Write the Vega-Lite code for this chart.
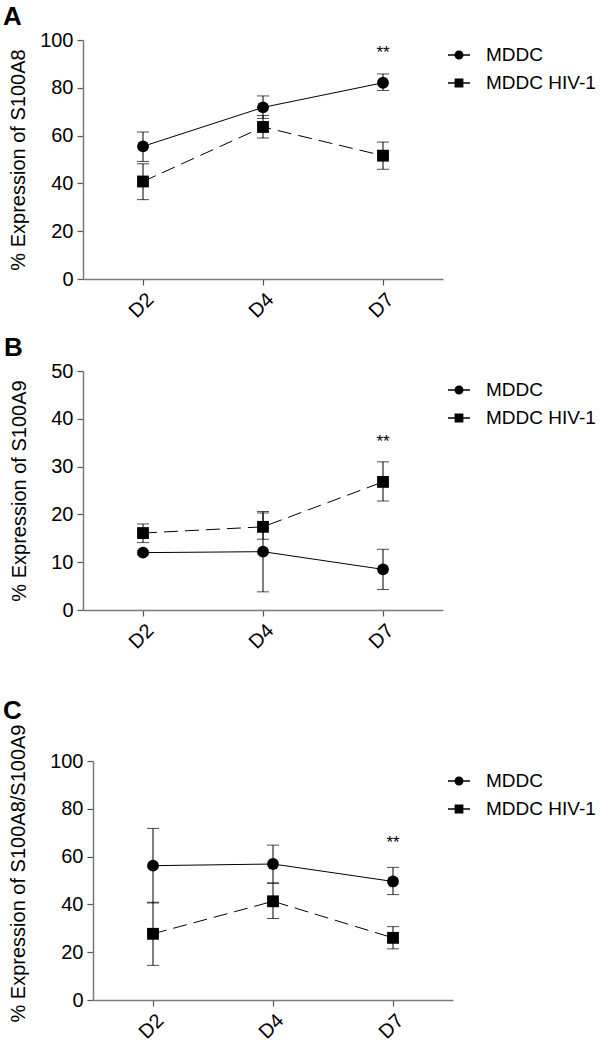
{
  "$schema": "https://vega.github.io/schema/vega-lite/v6.json",
  "padding": {"left": 2, "top": 4, "right": 0, "bottom": 0},
  "background": "white",
  "config": {
    "font": "Liberation Sans",
    "view": {"stroke": null},
    "axis": {
      "labelFont": "Liberation Sans", "labelFontSize": 20, "labelColor": "black",
      "titleFont": "Liberation Sans", "titleFontSize": 20, "titleFontWeight": "normal", "titleColor": "black",
      "domainColor": "#7a7a7a", "domainWidth": 1.5, "tickColor": "#555", "tickSize": 6, "tickWidth": 1.2,
      "grid": false, "labelPadding": 4
    },
    "legend": {
      "labelFont": "Liberation Sans", "labelFontSize": 19, "labelColor": "black",
      "symbolSize": 484, "symbolStrokeWidth": 0, "symbolFillColor": "black", "symbolOpacity": 1,
      "labelOffset": 16, "rowPadding": 7, "padding": 5, "offset": 0, "orient": "right"
    },
    "title": {"font": "Liberation Sans", "fontSize": 26, "fontWeight": "bold", "color": "black", "anchor": "start", "frame": "bounds", "dx": -5}
  },
  "datasets": {
    "stats": [
      {"panel": "A", "group": "MDDC", "day": "D2", "mean": 55.5, "lo": 49.2, "hi": 61.5},
      {"panel": "A", "group": "MDDC", "day": "D4", "mean": 71.8, "lo": 67.2, "hi": 76.6},
      {"panel": "A", "group": "MDDC", "day": "D7", "mean": 82.1, "lo": 78.9, "hi": 85.8},
      {"panel": "A", "group": "MDDC HIV-1", "day": "D2", "mean": 40.8, "lo": 33.2, "hi": 48.2},
      {"panel": "A", "group": "MDDC HIV-1", "day": "D4", "mean": 63.6, "lo": 59.0, "hi": 68.4},
      {"panel": "A", "group": "MDDC HIV-1", "day": "D7", "mean": 51.6, "lo": 45.9, "hi": 57.3},
      {"panel": "B", "group": "MDDC", "day": "D2", "mean": 12.0, "lo": 11.6, "hi": 12.4},
      {"panel": "B", "group": "MDDC", "day": "D4", "mean": 12.2, "lo": 3.8, "hi": 20.6},
      {"panel": "B", "group": "MDDC", "day": "D7", "mean": 8.5, "lo": 4.3, "hi": 12.7},
      {"panel": "B", "group": "MDDC HIV-1", "day": "D2", "mean": 16.1, "lo": 14.1, "hi": 18.0},
      {"panel": "B", "group": "MDDC HIV-1", "day": "D4", "mean": 17.4, "lo": 14.8, "hi": 20.3},
      {"panel": "B", "group": "MDDC HIV-1", "day": "D7", "mean": 26.8, "lo": 22.8, "hi": 31.0},
      {"panel": "C", "group": "MDDC", "day": "D2", "mean": 56.2, "lo": 40.6, "hi": 71.8},
      {"panel": "C", "group": "MDDC", "day": "D4", "mean": 56.9, "lo": 49.0, "hi": 64.8},
      {"panel": "C", "group": "MDDC", "day": "D7", "mean": 49.6, "lo": 44.1, "hi": 55.5},
      {"panel": "C", "group": "MDDC HIV-1", "day": "D2", "mean": 27.7, "lo": 14.5, "hi": 40.9},
      {"panel": "C", "group": "MDDC HIV-1", "day": "D4", "mean": 41.3, "lo": 34.1, "hi": 48.8},
      {"panel": "C", "group": "MDDC HIV-1", "day": "D7", "mean": 26.0, "lo": 21.4, "hi": 30.7}
    ],
    "stars": [
      {"panel": "A", "day": "D7", "y": 94.5, "label": "**"},
      {"panel": "B", "day": "D7", "y": 35.2, "label": "**"},
      {"panel": "C", "day": "D7", "y": 65.6, "label": "**"}
    ]
  },
  "columns": 1,
  "spacing": 13,
  "concat": [
    {
      "width": 360, "height": 239,
      "title": {"text": "A", "offset": 0},
      "encoding": {
        "x": {"field": "day", "type": "ordinal", "scale": {"type": "point", "padding": 0.5, "domain": ["D2", "D4", "D7"]}, "axis": {"title": null, "labelAngle": -45}}
      },
      "layer": [
        {
          "data": {"name": "stats"}, "transform": [{"filter": "datum.panel === 'A' && datum.group === 'MDDC'"}],
          "mark": {"type": "line", "color": "black", "strokeWidth": 1},
          "encoding": {
            "y": {"field": "mean", "type": "quantitative", "scale": {"domain": [0, 100], "nice": false},
                  "axis": {"title": "% Expression of S100A8", "values": [0, 20, 40, 60, 80, 100], "titleX": -55, "titleAngle": 270, "titleBaseline": "bottom", "titleAlign": "center"}}
          }
        },
        {
          "data": {"name": "stats"}, "transform": [{"filter": "datum.panel === 'A' && datum.group === 'MDDC HIV-1'"}],
          "mark": {"type": "line", "color": "black", "strokeWidth": 1, "strokeDash": [14, 7]},
          "encoding": {"y": {"field": "mean", "type": "quantitative"}}
        },
        {
          "data": {"name": "stats"}, "transform": [{"filter": "datum.panel === 'A'"}],
          "mark": {"type": "rule", "color": "black", "strokeWidth": 1},
          "encoding": {"y": {"field": "lo", "type": "quantitative"}, "y2": {"field": "hi"}}
        },
        {
          "data": {"name": "stats"}, "transform": [{"filter": "datum.panel === 'A'"}],
          "mark": {"type": "tick", "orient": "horizontal", "size": 12, "thickness": 1, "color": "black"},
          "encoding": {"y": {"field": "lo", "type": "quantitative"}}
        },
        {
          "data": {"name": "stats"}, "transform": [{"filter": "datum.panel === 'A'"}],
          "mark": {"type": "tick", "orient": "horizontal", "size": 12, "thickness": 1, "color": "black"},
          "encoding": {"y": {"field": "hi", "type": "quantitative"}}
        },
        {
          "data": {"name": "stats"}, "transform": [{"filter": "datum.panel === 'A' && datum.group === 'MDDC'"}],
          "mark": {"type": "point", "filled": true, "shape": "circle", "size": 140, "color": "black", "opacity": 1},
          "encoding": {"y": {"field": "mean", "type": "quantitative"}}
        },
        {
          "data": {"name": "stats"}, "transform": [{"filter": "datum.panel === 'A' && datum.group === 'MDDC HIV-1'"}],
          "mark": {"type": "point", "filled": true, "shape": "square", "size": 140, "color": "black", "opacity": 1},
          "encoding": {"y": {"field": "mean", "type": "quantitative"}}
        },
        {
          "data": {"name": "stats"}, "transform": [{"filter": "datum.panel === 'A'"}],
          "mark": {"type": "point", "filled": true, "size": 484, "color": "black", "opacity": 0},
          "encoding": {
            "y": {"field": "mean", "type": "quantitative"},
            "shape": {"field": "group", "type": "nominal",
              "scale": {"domain": ["MDDC", "MDDC HIV-1"], "range": ["M-1,-0.065L1,-0.065L1,0.065L-1,0.065Z M-0.41,0A0.41,0.41,0,1,1,0.41,0A0.41,0.41,0,1,1,-0.41,0Z", "M-1,-0.065L1,-0.065L1,0.065L-1,0.065Z M-0.4,-0.4L0.4,-0.4L0.4,0.4L-0.4,0.4Z"]},
              "legend": {"title": null, "padding": 4, "offset": 1, "symbolOpacity": 1, "symbolFillColor": "black"}}
          }
        },
        {
          "data": {"name": "stars"}, "transform": [{"filter": "datum.panel === 'A'"}],
          "mark": {"type": "text", "fontSize": 17, "color": "black", "baseline": "middle"},
          "encoding": {"y": {"field": "y", "type": "quantitative"}, "text": {"field": "label"}}
        }
      ]
    },
    {
      "width": 360, "height": 239,
      "title": {"text": "B", "offset": 0},
      "encoding": {
        "x": {"field": "day", "type": "ordinal", "scale": {"type": "point", "padding": 0.5, "domain": ["D2", "D4", "D7"]}, "axis": {"title": null, "labelAngle": -45, "minExtent": 75}}
      },
      "layer": [
        {
          "data": {"name": "stats"}, "transform": [{"filter": "datum.panel === 'B' && datum.group === 'MDDC'"}],
          "mark": {"type": "line", "color": "black", "strokeWidth": 1},
          "encoding": {
            "y": {"field": "mean", "type": "quantitative", "scale": {"domain": [0, 50], "nice": false},
                  "axis": {"title": "% Expression of S100A9", "values": [0, 10, 20, 30, 40, 50], "titleX": -54, "titleAngle": 270, "titleBaseline": "bottom", "titleAlign": "center"}}
          }
        },
        {
          "data": {"name": "stats"}, "transform": [{"filter": "datum.panel === 'B' && datum.group === 'MDDC HIV-1'"}],
          "mark": {"type": "line", "color": "black", "strokeWidth": 1, "strokeDash": [14, 7]},
          "encoding": {"y": {"field": "mean", "type": "quantitative"}}
        },
        {
          "data": {"name": "stats"}, "transform": [{"filter": "datum.panel === 'B'"}],
          "mark": {"type": "rule", "color": "black", "strokeWidth": 1},
          "encoding": {"y": {"field": "lo", "type": "quantitative"}, "y2": {"field": "hi"}}
        },
        {
          "data": {"name": "stats"}, "transform": [{"filter": "datum.panel === 'B'"}],
          "mark": {"type": "tick", "orient": "horizontal", "size": 12, "thickness": 1, "color": "black"},
          "encoding": {"y": {"field": "lo", "type": "quantitative"}}
        },
        {
          "data": {"name": "stats"}, "transform": [{"filter": "datum.panel === 'B'"}],
          "mark": {"type": "tick", "orient": "horizontal", "size": 12, "thickness": 1, "color": "black"},
          "encoding": {"y": {"field": "hi", "type": "quantitative"}}
        },
        {
          "data": {"name": "stats"}, "transform": [{"filter": "datum.panel === 'B' && datum.group === 'MDDC'"}],
          "mark": {"type": "point", "filled": true, "shape": "circle", "size": 140, "color": "black", "opacity": 1},
          "encoding": {"y": {"field": "mean", "type": "quantitative"}}
        },
        {
          "data": {"name": "stats"}, "transform": [{"filter": "datum.panel === 'B' && datum.group === 'MDDC HIV-1'"}],
          "mark": {"type": "point", "filled": true, "shape": "square", "size": 140, "color": "black", "opacity": 1},
          "encoding": {"y": {"field": "mean", "type": "quantitative"}}
        },
        {
          "data": {"name": "stats"}, "transform": [{"filter": "datum.panel === 'B'"}],
          "mark": {"type": "point", "filled": true, "size": 484, "color": "black", "opacity": 0},
          "encoding": {
            "y": {"field": "mean", "type": "quantitative"},
            "shape": {"field": "group", "type": "nominal",
              "scale": {"domain": ["MDDC", "MDDC HIV-1"], "range": ["M-1,-0.065L1,-0.065L1,0.065L-1,0.065Z M-0.41,0A0.41,0.41,0,1,1,0.41,0A0.41,0.41,0,1,1,-0.41,0Z", "M-1,-0.065L1,-0.065L1,0.065L-1,0.065Z M-0.4,-0.4L0.4,-0.4L0.4,0.4L-0.4,0.4Z"]},
              "legend": {"title": null, "padding": 8, "offset": -3, "symbolOpacity": 1, "symbolFillColor": "black"}}
          }
        },
        {
          "data": {"name": "stars"}, "transform": [{"filter": "datum.panel === 'B'"}],
          "mark": {"type": "text", "fontSize": 17, "color": "black", "baseline": "middle"},
          "encoding": {"y": {"field": "y", "type": "quantitative"}, "text": {"field": "label"}}
        }
      ]
    },
    {
      "width": 370, "height": 239,
      "title": {"text": "C", "offset": 0},
      "encoding": {
        "x": {"field": "day", "type": "ordinal", "scale": {"type": "point", "padding": 0.5, "domain": ["D2", "D4", "D7"], "range": [10, 370]}, "axis": {"title": null, "labelAngle": -45}}
      },
      "layer": [
        {
          "data": {"name": "stats"}, "transform": [{"filter": "datum.panel === 'C' && datum.group === 'MDDC'"}],
          "mark": {"type": "line", "color": "black", "strokeWidth": 1},
          "encoding": {
            "y": {"field": "mean", "type": "quantitative", "scale": {"domain": [0, 100], "nice": false},
                  "axis": {"title": "% Expression of S100A8/S100A9", "values": [0, 20, 40, 60, 80, 100], "offset": -10, "titleX": -65, "titleY": 112, "titleAngle": 270, "titleBaseline": "bottom", "titleAlign": "center"}}
          }
        },
        {
          "data": {"name": "stats"}, "transform": [{"filter": "datum.panel === 'C' && datum.group === 'MDDC HIV-1'"}],
          "mark": {"type": "line", "color": "black", "strokeWidth": 1, "strokeDash": [14, 7]},
          "encoding": {"y": {"field": "mean", "type": "quantitative"}}
        },
        {
          "data": {"name": "stats"}, "transform": [{"filter": "datum.panel === 'C'"}],
          "mark": {"type": "rule", "color": "black", "strokeWidth": 1},
          "encoding": {"y": {"field": "lo", "type": "quantitative"}, "y2": {"field": "hi"}}
        },
        {
          "data": {"name": "stats"}, "transform": [{"filter": "datum.panel === 'C'"}],
          "mark": {"type": "tick", "orient": "horizontal", "size": 12, "thickness": 1, "color": "black"},
          "encoding": {"y": {"field": "lo", "type": "quantitative"}}
        },
        {
          "data": {"name": "stats"}, "transform": [{"filter": "datum.panel === 'C'"}],
          "mark": {"type": "tick", "orient": "horizontal", "size": 12, "thickness": 1, "color": "black"},
          "encoding": {"y": {"field": "hi", "type": "quantitative"}}
        },
        {
          "data": {"name": "stats"}, "transform": [{"filter": "datum.panel === 'C' && datum.group === 'MDDC'"}],
          "mark": {"type": "point", "filled": true, "shape": "circle", "size": 140, "color": "black", "opacity": 1},
          "encoding": {"y": {"field": "mean", "type": "quantitative"}}
        },
        {
          "data": {"name": "stats"}, "transform": [{"filter": "datum.panel === 'C' && datum.group === 'MDDC HIV-1'"}],
          "mark": {"type": "point", "filled": true, "shape": "square", "size": 140, "color": "black", "opacity": 1},
          "encoding": {"y": {"field": "mean", "type": "quantitative"}}
        },
        {
          "data": {"name": "stats"}, "transform": [{"filter": "datum.panel === 'C'"}],
          "mark": {"type": "point", "filled": true, "size": 484, "color": "black", "opacity": 0},
          "encoding": {
            "y": {"field": "mean", "type": "quantitative"},
            "shape": {"field": "group", "type": "nominal",
              "scale": {"domain": ["MDDC", "MDDC HIV-1"], "range": ["M-1,-0.065L1,-0.065L1,0.065L-1,0.065Z M-0.41,0A0.41,0.41,0,1,1,0.41,0A0.41,0.41,0,1,1,-0.41,0Z", "M-1,-0.065L1,-0.065L1,0.065L-1,0.065Z M-0.4,-0.4L0.4,-0.4L0.4,0.4L-0.4,0.4Z"]},
              "legend": {"title": null, "padding": 9, "offset": -14, "symbolOpacity": 1, "symbolFillColor": "black"}}
          }
        },
        {
          "data": {"name": "stars"}, "transform": [{"filter": "datum.panel === 'C'"}],
          "mark": {"type": "text", "fontSize": 17, "color": "black", "baseline": "middle"},
          "encoding": {"y": {"field": "y", "type": "quantitative"}, "text": {"field": "label"}}
        }
      ]
    }
  ],
  "resolve": {"scale": {"y": "independent", "x": "independent", "shape": "independent"}, "legend": {"shape": "independent"}}
}
